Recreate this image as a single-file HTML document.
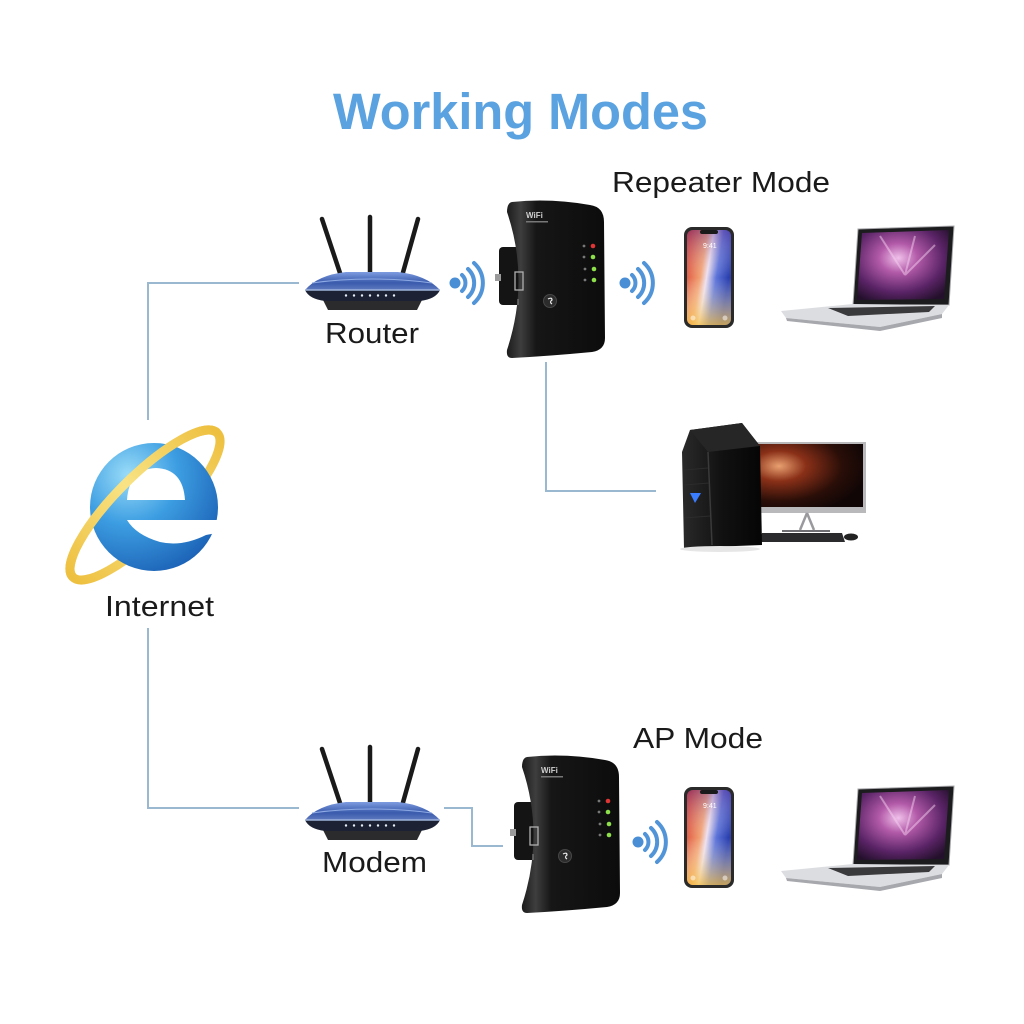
<!DOCTYPE html>
<html><head><meta charset="utf-8"><style>html,body{margin:0;padding:0;background:#fff}svg{display:block}</style></head>
<body>
<svg width="1024" height="1024" viewBox="0 0 1024 1024" xmlns="http://www.w3.org/2000/svg" font-family="'Liberation Sans', Arial, sans-serif">
<defs>
<linearGradient id="rtop" x1="0" y1="0" x2="0" y2="1"><stop offset="0" stop-color="#7d9ce0"/><stop offset="0.6" stop-color="#3a5aac"/><stop offset="1" stop-color="#5d79bf"/></linearGradient>
<linearGradient id="rep" x1="0" y1="0" x2="1" y2="0"><stop offset="0" stop-color="#1c1c1c"/><stop offset="0.14" stop-color="#3e3e3e"/><stop offset="0.3" stop-color="#161616"/><stop offset="1" stop-color="#0c0c0c"/></linearGradient>
<linearGradient id="ph" x1="0" y1="0" x2="1" y2="0.35"><stop offset="0" stop-color="#d5372b"/><stop offset="0.42" stop-color="#f2a274"/><stop offset="0.55" stop-color="#eee0ee"/><stop offset="0.75" stop-color="#5b72d8"/><stop offset="1" stop-color="#2a3fae"/></linearGradient>
<linearGradient id="phv" x1="0" y1="0" x2="0" y2="1"><stop offset="0" stop-color="#5a2a90" stop-opacity="0.45"/><stop offset="0.5" stop-color="#ffffff" stop-opacity="0"/><stop offset="1" stop-color="#f5c040" stop-opacity="0.75"/></linearGradient>
<radialGradient id="lap" cx="0.45" cy="0.4" r="0.7"><stop offset="0" stop-color="#f0c0ea"/><stop offset="0.3" stop-color="#b25aa8"/><stop offset="0.7" stop-color="#5a2466"/><stop offset="1" stop-color="#24102c"/></radialGradient>
<radialGradient id="mon" cx="0.25" cy="0.35" r="0.8"><stop offset="0" stop-color="#e9a070"/><stop offset="0.3" stop-color="#8a3018"/><stop offset="0.7" stop-color="#2a0e08"/><stop offset="1" stop-color="#100606"/></radialGradient>
<radialGradient id="ie" cx="0.3" cy="0.25" r="0.85"><stop offset="0" stop-color="#9adcf8"/><stop offset="0.45" stop-color="#3d9ee2"/><stop offset="1" stop-color="#1a5fb4"/></radialGradient>
<linearGradient id="ring" x1="0" y1="0" x2="1" y2="0"><stop offset="0" stop-color="#eec040"/><stop offset="0.5" stop-color="#f8e385"/><stop offset="1" stop-color="#eec040"/></linearGradient>
<linearGradient id="tw" x1="0" y1="0" x2="1" y2="0"><stop offset="0" stop-color="#2a2a2a"/><stop offset="0.5" stop-color="#111"/><stop offset="1" stop-color="#050505"/></linearGradient>
</defs>

<text x="333" y="129" font-size="51" font-weight="bold" fill="#5aa2e0" textLength="375" lengthAdjust="spacingAndGlyphs">Working Modes</text>

<g stroke="#9ab9d1" stroke-width="2" fill="none">
<polyline points="148,420 148,283 299,283"/>
<polyline points="148,628 148,808 299,808"/>
<polyline points="444,808 472,808 472,846 503,846"/>
<polyline points="546,362 546,491 656,491"/>
</g>

<g>
<g stroke="#1a1a1a" stroke-linecap="round"><line x1="322" y1="219" x2="341" y2="276" stroke-width="4.5"/><line x1="370" y1="217" x2="370" y2="274" stroke-width="4.5"/><line x1="418" y1="219" x2="402" y2="276" stroke-width="4.5"/></g>
<path d="M323,300 L422,300 L417,310 L328,310 Z" fill="#2b2b2e"/>
<path d="M305,290 Q318,275 346,272 L398,272 Q426,275 440,290 Z" fill="url(#rtop)"/>
<path d="M312,283 Q340,279 372,279 Q404,279 432,283" stroke="#8eaae4" stroke-width="1" fill="none"/>
<path d="M305,290 L440,290 Q436,299 420,301 L325,301 Q309,299 305,290 Z" fill="#1c2233"/>
<path d="M305,290 L440,290" stroke="#9fb4dc" stroke-width="1.5"/>
<g fill="#e8eef8"><circle cx="346" cy="295.5" r="1.2"/><circle cx="354" cy="295.5" r="1.2"/><circle cx="362" cy="295.5" r="1.2"/><circle cx="370" cy="295.5" r="1.2"/><circle cx="378" cy="295.5" r="1.2"/><circle cx="386" cy="295.5" r="1.2"/><circle cx="394" cy="295.5" r="1.2"/></g>
</g>
<text x="325" y="343" font-size="29" fill="#1a1a1a" textLength="94" lengthAdjust="spacingAndGlyphs">Router</text>

<g fill="none" stroke="#5195d8" stroke-width="4" stroke-linecap="round">
<circle cx="455" cy="283" r="5.5" fill="#4a8ed6" stroke="none"/>
<path d="M462,275 A11,11 0 0 1 462,291"/>
<path d="M468,269 A19,19 0 0 1 468,297"/>
<path d="M474,263 A27,27 0 0 1 474,303"/>
</g>
<g fill="none" stroke="#5195d8" stroke-width="4" stroke-linecap="round">
<circle cx="625" cy="283" r="5.5" fill="#4a8ed6" stroke="none"/>
<path d="M632,275 A11,11 0 0 1 632,291"/>
<path d="M638,269 A19,19 0 0 1 638,297"/>
<path d="M644,263 A27,27 0 0 1 644,303"/>
</g>
<g fill="none" stroke="#5195d8" stroke-width="4" stroke-linecap="round">
<circle cx="638" cy="842" r="5.5" fill="#4a8ed6" stroke="none"/>
<path d="M645,834 A11,11 0 0 1 645,850"/>
<path d="M651,828 A19,19 0 0 1 651,856"/>
<path d="M657,822 A27,27 0 0 1 657,862"/>
</g>

<g>
<rect x="499" y="247" width="26" height="58" rx="4" fill="#141414"/>
<rect x="495" y="274" width="6" height="7" fill="#9a9a9a"/>
<path d="M512,202 Q550,198 590,205 Q604,207 604,222 L605,338 Q605,350 592,352 Q550,356 512,358 Q506,358 507,350 Q530,280 507,212 Q507,203 512,202 Z" fill="url(#rep)"/>
<rect x="515" y="272" width="8" height="18" fill="none" stroke="#b0b0b0" stroke-width="1.3"/>
<line x1="518" y1="299" x2="518" y2="305" stroke="#777" stroke-width="1.3"/>
<text x="526" y="218" font-size="8" font-weight="bold" fill="#d0d0d0">WiFi</text>
<rect x="526" y="221" width="22" height="1.5" fill="#777"/>
<circle cx="550" cy="301" r="6.5" fill="#2c2c2c" stroke="#474747" stroke-width="1"/>
<path d="M548,299 Q552,297 552,300 Q549,302 552,304" stroke="#eee" stroke-width="1.2" fill="none"/>
<g fill="#777"><circle cx="584" cy="246" r="1.4"/><circle cx="584" cy="257" r="1.4"/><circle cx="585" cy="269" r="1.4"/><circle cx="585" cy="280" r="1.4"/></g>
<circle cx="593" cy="246" r="2.3" fill="#e03535"/>
<circle cx="593" cy="257" r="2.3" fill="#8ee04a"/>
<circle cx="594" cy="269" r="2.3" fill="#8ee04a"/>
<circle cx="594" cy="280" r="2.3" fill="#8ee04a"/>
</g>

<g>
<rect x="684" y="227" width="50" height="101" rx="8" fill="#2a2a2a"/>
<rect x="687" y="230" width="44" height="95" rx="6" fill="url(#ph)"/>
<rect x="687" y="230" width="44" height="95" rx="6" fill="url(#phv)"/>
<rect x="700" y="230" width="18" height="4" rx="2" fill="#1a1a1a"/>
<text x="703" y="248" font-size="7" fill="#fff">9:41</text>
<circle cx="693" cy="318" r="2.5" fill="#ffffff" fill-opacity="0.5"/>
<circle cx="725" cy="318" r="2.5" fill="#ffffff" fill-opacity="0.5"/>
</g>

<g>
<polygon points="858,229 954,226 949,305 853,305" fill="#1c1c1e" stroke="#a8a8ac" stroke-width="1"/>
<polygon points="862,233 949,230 944,299 857,300" fill="url(#lap)"/>
<path d="M880,236 L905,275 M915,236 L905,275 M935,245 L905,275" stroke="#f4d0f0" stroke-width="2" stroke-opacity="0.5"/>
<polygon points="781,311 853,304 949,305 942,314 880,327 786,318" fill="#dcdde1"/>
<polygon points="828,308 935,306 929,312 848,316" fill="#3a3a3c"/>
<polygon points="786,318 880,327 942,314 942,318 880,331 787,321" fill="#a7a8ad"/>
</g>

<rect x="748" y="442" width="118" height="71" fill="#b9b9bc"/>
<rect x="751" y="444" width="112" height="63" fill="url(#mon)"/>
<path d="M807,513 L800,530 M807,513 L814,530" stroke="#9a9a9e" stroke-width="2.5"/>
<path d="M782,531 L830,531" stroke="#707074" stroke-width="2"/>
<polygon points="762,533 842,533 845,542 758,542" fill="#2b2b2d"/>
<ellipse cx="851" cy="537" rx="7" ry="3.5" fill="#222"/>
<polygon points="690,430 742,423 760,446 762,545 684,548 682,452" fill="url(#tw)"/>
<path d="M690,430 L742,423 L760,446 L708,452 Z" fill="#262626"/>
<path d="M708,452 L712,545" stroke="#3a3a3a" stroke-width="1.5"/>
<g stroke="#2c2c2c" stroke-width="1"><line x1="684" y1="470" x2="708" y2="468"/><line x1="684" y1="485" x2="709" y2="483"/><line x1="684" y1="518" x2="710" y2="516"/></g>
<polygon points="690,493 701,493 695,503" fill="#3b7dff"/>
<ellipse cx="720" cy="549" rx="40" ry="3" fill="#e6e6e6"/>

<g transform="translate(145,505) rotate(-45)">
<ellipse cx="0" cy="0" rx="102" ry="29" fill="none" stroke="url(#ring)" stroke-width="9"/>
</g>
<circle cx="154" cy="507" r="64" fill="url(#ie)"/>
<path d="M127,500 Q129,469 156,468 Q183,469 185,500 Z" fill="#fff"/>
<path d="M127,520 L222,520 L222,532 L206,535 Q182,547 160,542 Q136,535 127,520 Z" fill="#fff"/>
<g transform="translate(145,505) rotate(-45)">
<path d="M-102,0 A102,29 0 0 1 102,0" fill="none" stroke="url(#ring)" stroke-width="9"/>
</g>
<text x="105" y="616" font-size="29" fill="#1a1a1a" textLength="109" lengthAdjust="spacingAndGlyphs">Internet</text>

<text x="612" y="192" font-size="29" fill="#1a1a1a" textLength="218" lengthAdjust="spacingAndGlyphs">Repeater Mode</text>

<g transform="translate(0,530)">
<g stroke="#1a1a1a" stroke-linecap="round"><line x1="322" y1="219" x2="341" y2="276" stroke-width="4.5"/><line x1="370" y1="217" x2="370" y2="274" stroke-width="4.5"/><line x1="418" y1="219" x2="402" y2="276" stroke-width="4.5"/></g>
<path d="M323,300 L422,300 L417,310 L328,310 Z" fill="#2b2b2e"/>
<path d="M305,290 Q318,275 346,272 L398,272 Q426,275 440,290 Z" fill="url(#rtop)"/>
<path d="M312,283 Q340,279 372,279 Q404,279 432,283" stroke="#8eaae4" stroke-width="1" fill="none"/>
<path d="M305,290 L440,290 Q436,299 420,301 L325,301 Q309,299 305,290 Z" fill="#1c2233"/>
<path d="M305,290 L440,290" stroke="#9fb4dc" stroke-width="1.5"/>
<g fill="#e8eef8"><circle cx="346" cy="295.5" r="1.2"/><circle cx="354" cy="295.5" r="1.2"/><circle cx="362" cy="295.5" r="1.2"/><circle cx="370" cy="295.5" r="1.2"/><circle cx="378" cy="295.5" r="1.2"/><circle cx="386" cy="295.5" r="1.2"/><circle cx="394" cy="295.5" r="1.2"/></g>
</g>
<text x="322" y="872" font-size="29" fill="#1a1a1a" textLength="105" lengthAdjust="spacingAndGlyphs">Modem</text>
<text x="633" y="748" font-size="29" fill="#1a1a1a" textLength="130" lengthAdjust="spacingAndGlyphs">AP Mode</text>

<g transform="translate(15,555)">
<rect x="499" y="247" width="26" height="58" rx="4" fill="#141414"/>
<rect x="495" y="274" width="6" height="7" fill="#9a9a9a"/>
<path d="M512,202 Q550,198 590,205 Q604,207 604,222 L605,338 Q605,350 592,352 Q550,356 512,358 Q506,358 507,350 Q530,280 507,212 Q507,203 512,202 Z" fill="url(#rep)"/>
<rect x="515" y="272" width="8" height="18" fill="none" stroke="#b0b0b0" stroke-width="1.3"/>
<line x1="518" y1="299" x2="518" y2="305" stroke="#777" stroke-width="1.3"/>
<text x="526" y="218" font-size="8" font-weight="bold" fill="#d0d0d0">WiFi</text>
<rect x="526" y="221" width="22" height="1.5" fill="#777"/>
<circle cx="550" cy="301" r="6.5" fill="#2c2c2c" stroke="#474747" stroke-width="1"/>
<path d="M548,299 Q552,297 552,300 Q549,302 552,304" stroke="#eee" stroke-width="1.2" fill="none"/>
<g fill="#777"><circle cx="584" cy="246" r="1.4"/><circle cx="584" cy="257" r="1.4"/><circle cx="585" cy="269" r="1.4"/><circle cx="585" cy="280" r="1.4"/></g>
<circle cx="593" cy="246" r="2.3" fill="#e03535"/>
<circle cx="593" cy="257" r="2.3" fill="#8ee04a"/>
<circle cx="594" cy="269" r="2.3" fill="#8ee04a"/>
<circle cx="594" cy="280" r="2.3" fill="#8ee04a"/>
</g>

<g transform="translate(0,560)">
<rect x="684" y="227" width="50" height="101" rx="8" fill="#2a2a2a"/>
<rect x="687" y="230" width="44" height="95" rx="6" fill="url(#ph)"/>
<rect x="687" y="230" width="44" height="95" rx="6" fill="url(#phv)"/>
<rect x="700" y="230" width="18" height="4" rx="2" fill="#1a1a1a"/>
<text x="703" y="248" font-size="7" fill="#fff">9:41</text>
<circle cx="693" cy="318" r="2.5" fill="#ffffff" fill-opacity="0.5"/>
<circle cx="725" cy="318" r="2.5" fill="#ffffff" fill-opacity="0.5"/>
<polygon points="858,229 954,226 949,305 853,305" fill="#1c1c1e" stroke="#a8a8ac" stroke-width="1"/>
<polygon points="862,233 949,230 944,299 857,300" fill="url(#lap)"/>
<path d="M880,236 L905,275 M915,236 L905,275 M935,245 L905,275" stroke="#f4d0f0" stroke-width="2" stroke-opacity="0.5"/>
<polygon points="781,311 853,304 949,305 942,314 880,327 786,318" fill="#dcdde1"/>
<polygon points="828,308 935,306 929,312 848,316" fill="#3a3a3c"/>
<polygon points="786,318 880,327 942,314 942,318 880,331 787,321" fill="#a7a8ad"/>
</g>
</svg>
</body></html>
